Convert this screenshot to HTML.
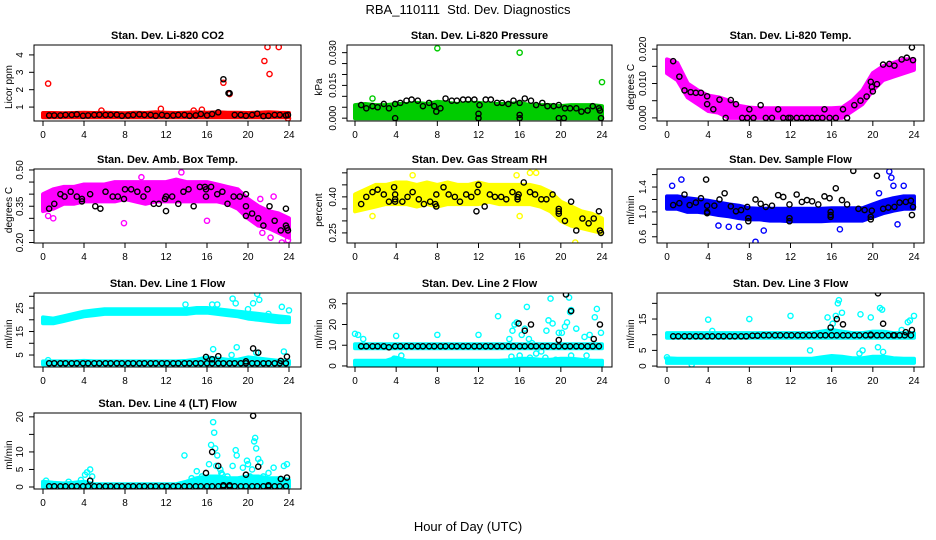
<!DOCTYPE html>
<html><head><meta charset="utf-8"><style>
body{margin:0;background:#fff;}
svg{display:block;font-family:"Liberation Sans",sans-serif;}
</style></head><body>
<svg id="c" width="936" height="540" viewBox="0 0 936 540">
<text x="468" y="14" text-anchor="middle" font-size="13" style="white-space:pre">RBA_110111  Std. Dev. Diagnostics</text>
<text x="468" y="531" text-anchor="middle" font-size="13">Hour of Day (UTC)</text>
</svg>
<script>
const HOURS=[0,1,2,3,4,5,6,7,8,9,10,11,12,13,14,15,16,17,18,19,20,21,22,23,24];
const GRID=[0.6,1.1,1.7,2.2,2.8,3.3,3.9,4.4,5.0,5.5,6.1,6.6,7.2,7.7,8.3,8.8,9.4,9.9,10.5,11.0,11.6,12.1,12.7,13.2,13.8,14.3,14.9,15.4,16.0,16.5,17.1,17.6,18.2,18.7,19.3,19.8,20.4,20.9,21.5,22.0,22.6,23.1,23.7];
const X_TICKS=[0,4,8,12,16,20,24];

// Panel 1 CO2
const co2BandLo=[0.42,0.42,0.42,0.42,0.42,0.42,0.42,0.42,0.42,0.42,0.42,0.42,0.42,0.42,0.42,0.42,0.42,0.42,0.42,0.42,0.42,0.42,0.42,0.42,0.42];
const co2BandHi=[0.66,0.66,0.65,0.66,0.67,0.66,0.68,0.66,0.65,0.67,0.66,0.7,0.68,0.66,0.68,0.7,0.68,0.7,0.68,0.67,0.66,0.68,0.7,0.67,0.66];
const co2OutX=[0.5,11.5,15.5,17.6,18.2,21.6,21.9,22.1,23.0,5.7,14.7,23.9];
const co2OutY=[2.35,0.9,0.85,2.4,1.75,3.65,4.45,2.9,4.45,0.8,0.8,0.35];
const co2Black=[0.52,0.52,0.52,0.55,0.55,0.58,0.5,0.52,0.55,0.56,0.55,0.55,0.56,0.5,0.52,0.55,0.58,0.55,0.55,0.5,0.55,0.5,0.52,0.55,0.55,0.5,0.52,0.6,0.52,0.6,0.7,2.6,1.8,0.55,0.55,0.5,0.55,0.62,0.48,0.5,0.55,0.55,0.52];
const co2ExX=[18.1,23.9];const co2ExY=[1.8,0.55];

// Panel 2 Pressure
const prBandLo=[0,0,0,0,0,0,0,0,0,0,0,0,0,0,0,0,0,0,0,0,0,0,0,0,0];
const prBandHi=[0.006,0.0065,0.006,0.006,0.0065,0.0065,0.007,0.0065,0.0075,0.007,0.0065,0.007,0.007,0.0065,0.0065,0.0065,0.007,0.006,0.006,0.006,0.0055,0.006,0.006,0.006,0.0055];
const prOutX=[8.0,16.0,24.0,1.7];
const prOutY=[0.032,0.030,0.0165,0.009];
const prBlack=[0.006,0.0045,0.0055,0.005,0.0065,0.0045,0.0065,0.007,0.008,0.0085,0.008,0.0055,0.007,0.0055,0.0045,0.009,0.008,0.008,0.0085,0.0085,0.0085,0.006,0.0085,0.0085,0.007,0.007,0.0065,0.008,0.007,0.009,0.008,0.006,0.007,0.0055,0.0055,0.006,0.0045,0.0045,0.0045,0.003,0.0035,0.0055,0.0045];
const prExX=[3.9,12.0,12.0,16.0,16.0,19.8,20.3,23.8,23.9,7.9];const prExY=[0,0,0.002,0,0.0015,0,0,0.0035,0,0.003];

// Panel 3 Temp
const tpBandLo=[0.013,0.011,0.006,0.004,0.002,0.0015,0,0,0,0,0,0,0,0,0,0,0,0,0.002,0.004,0.008,0.011,0.012,0.013,0.014];
const tpBandHi=[0.017,0.016,0.010,0.008,0.0065,0.006,0.005,0.0035,0.003,0.0028,0.0028,0.0028,0.0028,0.0028,0.0028,0.0028,0.0028,0.003,0.005,0.008,0.013,0.015,0.016,0.017,0.017];
const tpBX=[0.6,1.2,1.7,2.3,2.8,3.3,3.9,3.9,4.5,5.1,5.7,6.2,6.7,7.3,7.8,8.0,8.4,9.1,9.6,10.2,10.8,11.3,11.8,12.0,12.6,13.1,13.6,14.1,14.6,15.1,15.3,15.8,16.4,17.1,17.5,18.2,18.8,19.4,19.8,19.9,20.0,20.4,21.0,21.6,22.1,22.8,23.3,23.8,23.9];
const tpBY=[0.0165,0.012,0.008,0.0075,0.0073,0.0073,0.0063,0.004,0.0025,0.0053,0,0.0052,0.004,0,0,0.0025,0,0.0037,0,0,0.0025,0,0,0,0,0,0,0,0,0,0.0025,0,0,0.0025,0,0.0037,0.005,0.0062,0.0105,0.009,0.0077,0.0098,0.0155,0.0157,0.0152,0.017,0.0175,0.0205,0.0168];

// Panel 4 Amb box temp
const abBandLo=[0.33,0.34,0.36,0.36,0.37,0.37,0.37,0.37,0.38,0.37,0.36,0.37,0.37,0.37,0.37,0.37,0.37,0.37,0.36,0.34,0.30,0.27,0.26,0.24,0.22];
const abBandHi=[0.40,0.42,0.43,0.43,0.44,0.44,0.44,0.45,0.45,0.45,0.45,0.45,0.45,0.46,0.45,0.45,0.45,0.44,0.43,0.42,0.38,0.35,0.33,0.32,0.30];
const abOutX=[0.5,1.0,7.9,9.6,13.5,16.0,23.3,23.9,21.4,22.2,21.2,22.5];
const abOutY=[0.31,0.30,0.28,0.47,0.49,0.29,0.20,0.21,0.24,0.22,0.38,0.39];
const abBX=[0.6,1.1,1.7,2.1,2.7,3.3,3.8,3.8,4.6,5.1,5.6,6.1,6.8,7.3,7.9,8.0,8.6,9.2,9.8,10.2,10.8,11.3,11.9,12.0,12.0,12.6,13.2,13.7,14.2,14.7,15.3,15.8,15.9,15.9,16.4,17.0,17.5,18.0,18.6,19.2,19.8,19.8,19.8,20.4,21.0,21.5,22.1,22.6,23.2,23.7,23.7,23.8,23.9];
const abBY=[0.34,0.36,0.40,0.39,0.41,0.39,0.37,0.38,0.40,0.35,0.34,0.41,0.39,0.39,0.38,0.42,0.42,0.41,0.39,0.42,0.36,0.36,0.38,0.33,0.39,0.39,0.36,0.41,0.42,0.35,0.43,0.43,0.39,0.42,0.43,0.40,0.41,0.36,0.39,0.39,0.35,0.31,0.40,0.32,0.30,0.27,0.35,0.29,0.25,0.34,0.27,0.26,0.25];

// Panel 5 Gas stream RH
const rhBandLo=[0.34,0.35,0.36,0.37,0.37,0.37,0.36,0.37,0.36,0.37,0.37,0.37,0.37,0.38,0.37,0.37,0.37,0.37,0.36,0.34,0.30,0.28,0.27,0.26,0.25];
const rhBandHi=[0.41,0.43,0.45,0.45,0.46,0.46,0.45,0.46,0.45,0.46,0.45,0.45,0.46,0.45,0.45,0.45,0.45,0.45,0.44,0.42,0.38,0.36,0.34,0.33,0.31];
const rhOutX=[5.6,15.7,17.0,17.6,21.4,16.0,1.7];
const rhOutY=[0.49,0.49,0.50,0.50,0.21,0.32,0.32];
const rhBX=[0.6,1.1,1.7,2.2,2.8,3.3,3.8,3.9,3.9,3.9,4.6,5.1,5.6,6.2,6.7,7.3,7.8,7.9,7.9,8.6,9.1,9.7,10.2,10.8,11.3,11.8,11.9,12.0,12.6,13.1,13.6,14.2,14.7,15.3,15.8,15.8,15.9,16.4,17.0,17.5,18.1,18.6,19.2,19.8,19.8,19.8,20.4,21.0,21.5,22.1,22.7,23.2,23.7,23.8,23.9];
const rhBY=[0.37,0.40,0.42,0.43,0.41,0.38,0.44,0.39,0.38,0.41,0.38,0.40,0.42,0.39,0.37,0.38,0.37,0.36,0.41,0.44,0.41,0.40,0.38,0.41,0.40,0.34,0.42,0.45,0.36,0.41,0.40,0.40,0.39,0.42,0.39,0.40,0.41,0.46,0.42,0.41,0.39,0.39,0.41,0.35,0.33,0.34,0.30,0.38,0.26,0.31,0.29,0.31,0.34,0.26,0.25];

// Panel 6 Sample flow
const sfBandLo=[1.05,1.05,1.0,1.0,0.98,0.95,0.93,0.9,0.88,0.88,0.86,0.86,0.85,0.85,0.85,0.85,0.86,0.86,0.86,0.86,0.92,0.98,1.02,1.05,1.05];
const sfBandHi=[1.25,1.25,1.22,1.2,1.18,1.15,1.12,1.1,1.06,1.05,1.05,1.05,1.05,1.05,1.05,1.05,1.06,1.06,1.06,1.06,1.12,1.18,1.22,1.25,1.25];
const sfOutX=[0.5,1.4,8.6,9.4,16.8,21.6,21.8,22.0,23.0,22.4,20.6,5.0,6.0,7.0];
const sfOutY=[1.42,1.52,0.52,0.70,0.72,1.65,1.55,1.42,1.42,0.80,1.30,0.78,0.76,0.76];
const sfBX=[0.6,1.2,1.7,2.2,2.8,3.3,3.8,3.9,3.9,3.9,4.6,5.1,5.6,6.2,6.7,7.2,7.8,7.9,7.9,8.6,9.1,9.6,10.2,10.8,11.3,11.9,11.9,11.9,12.6,13.1,13.6,14.1,14.7,15.3,15.8,15.9,15.9,15.9,16.4,17.0,17.5,18.1,18.6,19.2,19.8,19.8,19.9,20.4,21.0,21.5,22.1,22.6,23.2,23.7,23.8,23.9];
const sfBY=[1.11,1.14,1.28,1.11,1.15,1.22,1.52,1.10,0.98,1.00,1.10,1.20,1.30,1.09,1.01,1.03,1.08,0.90,0.85,1.20,1.13,1.08,1.10,1.27,1.24,1.12,0.90,0.85,1.28,1.16,1.19,1.17,1.12,1.25,1.22,1.00,0.95,0.92,1.38,1.19,1.12,1.66,1.05,1.03,0.92,0.88,1.02,1.58,1.05,1.07,1.08,1.15,1.16,1.18,0.95,1.08];

// Panel 7 Line 1 flow
const l1BandLo=[18.5,18.5,19.5,20.5,21.5,22,22.5,22.5,22.5,22.5,22.5,22.5,22.5,22.5,22.5,23,23,22.5,22,21.5,20.5,20,19.5,19,19];
const l1BandHi=[21,20.5,21.5,22.5,23.5,24,24.5,24.5,24.5,24.5,24.5,24.5,24.5,24.5,24.5,25,25,24.5,24,23.5,23,22.5,22,21.5,21];
const l1Band2Lo=[1,1,1,1,1,1,1,1,1,1,1,1,1,1,1,1,1,1,1,1,1,1,1,1,1];
const l1Band2Hi=[2.3,2.3,2.3,2.3,2.5,2.3,2.3,2.3,2.3,2.3,2.3,2.3,2.3,2.3,2.5,3,4,3.5,3,3,4,3.5,3,2.5,2.5];
const l1OutX=[13.9,16.5,17.0,18.5,18.8,20.5,20.9,21.1,23.3,24.0,16.6,18.9,18.4,23.5,20.8,0.5,20.0,22.0];
const l1OutY=[26.5,26.5,26.5,29,27,27,31,28.5,25.5,24,7.5,8.3,5,6.5,6,2.8,24.5,22.5];
const l1Black=[1.5,1.5,1.5,1.5,1.5,1.5,1.5,1.5,1.5,1.5,1.5,1.5,1.5,1.5,1.5,1.5,1.5,1.5,1.5,1.5,1.5,1.5,1.5,1.5,1.5,1.5,1.5,1.5,1.5,1.5,1.5,1.5,1.5,1.5,1.5,1.5,1.5,1.5,1.5,1.5,1.5,1.5,1.5];
const l1ExX=[15.9,16.5,17.1,19.8,20.5,21.0,23.2,23.8];const l1ExY=[4.2,3.2,4.5,2.3,7.8,6.0,2.5,4.3];

// Panel 8 Line 2 flow
const l2BandLo=[8.5,8.5,8.5,8.5,8.5,8.5,8.5,8.5,8.5,8.5,8.5,8.5,8.5,8.5,8.5,8.5,8.5,8.5,8.5,8.5,8.5,8.5,8.5,8.5,8.5];
const l2BandHi=[10.5,10.5,10.5,10.5,10.5,10.5,10.5,10.5,10.5,10.5,10.5,10.5,10.5,10.5,10.5,10.5,10.5,10.5,10.5,10.5,10.5,10.5,10.5,10.5,10.5];
const l2Band2Lo=[0.5,0.5,0.5,0.5,0,0.5,0.5,0.5,0.5,0.5,0.5,0.5,0.5,0.5,0.5,0.5,0.5,0.5,0.5,0.5,0.5,0.5,0.5,0.5,0.5];
const l2Band2Hi=[2.5,2.5,2.5,2.5,4,2.5,2.5,2.5,2.5,2.5,2.5,2.5,2.5,2.5,2.5,2.8,3.5,3.5,3,3,3.5,3.5,3,2.5,2.5];
const l2OutX=[0,0.3,0.8,4,8,12,13.9,15.3,15.5,15.7,16.2,16.5,16.7,16.9,17.2,17.6,18.1,18.6,18.8,19.0,19.2,19.8,20.1,20.4,20.6,20.8,20.9,21.0,21.5,22.3,22.8,23.3,23.5,23.9,16.0,17.0,18.5,21.0,22.5,19.5,15.0,15.2,4.5,3.8];
const l2OutY=[15.5,15,13,14.5,15,15,24,17,20,21,15,18,28.5,13,11,6,7,17,22,32.5,20.5,16,16,19,21,33,26,27,18,14,15,23.5,27.5,16,5,4,4,5,5,3,13,4.5,5,3.5];
const l2Black=[9.5,9.5,9.5,9.5,9.5,9,9.5,9.5,9.5,9.5,9.5,9.5,9.5,9.5,9.5,9.5,9.5,9.5,9.5,9.5,9.5,9.5,9.5,9.5,9.5,9.5,9.5,9.5,9.5,9.5,9.5,9.5,9.5,9.5,9.5,9.5,9.5,9.5,9.5,9.5,9.5,9.5,9.5];
const l2ExX=[15.9,16.5,17.1,19.8,20.5,21.0,23.2,23.8];const l2ExY=[20.5,17,20,12.5,34.5,26.5,13,20];

// Panel 9 Line 3 flow
const l3BandLo=[9,9,9,9,9,9,9,9,9,9,9,9,9,9,9,9,9,9,9,9,9,9,9,9,9];
const l3BandHi=[10.5,10.5,10.5,10.5,10.5,10.5,10.5,10.5,10.5,10.5,10.5,10.5,10.5,10.5,10.5,11,11.5,11,10.5,10.5,11,11,10.5,10.5,10.5];
const l3Band2Lo=[1,1,1,1,1,1,1,1,1,1,1,1,1,1,1,1,1,1,1,1,1,1,1,1,1];
const l3Band2Hi=[2.5,2.3,2.3,2.3,2.3,2.3,2.3,2.3,2.3,2.3,2.3,2.3,2.3,2.3,2.3,2.8,3.2,3,2.5,2.5,3,3,2.5,2.3,2.3];
const l3OutX=[0,2.4,4,4.4,8,12,13.9,15.6,16.1,16.4,16.6,16.7,17.0,18.7,18.8,19.0,19.8,20.5,20.7,20.9,21.0,21.2,22.8,23.4,23.6,24.0];
const l3OutY=[2.8,0.5,14.8,11.2,15,16,5,15.5,13.5,16,20,21,17,4,16.5,5,15.5,6,18.5,18,4.5,10.5,11.5,14,14.5,16];
const l3Black=[9.5,9.5,9.5,9.5,9.5,9.5,9.5,9.5,9.5,9.5,9.5,9.5,9.5,9.5,9.7,9.7,9.8,9.8,9.8,9.8,9.8,9.8,9.8,9.8,9.8,9.8,9.8,9.8,9.8,9.8,9.8,9.8,9.8,9.8,9.8,9.8,9.8,9.8,9.8,9.8,9.8,9.8,9.8];
const l3ExX=[15.9,16.5,17.1,19.8,20.5,21.0,23.2,23.8,22.1];const l3ExY=[12.3,15,13.3,10,23.2,13.5,10.8,11.5,9.8];

// Panel 10 Line 4 flow
const l4BandLo=[0,0,0,0,0,0,0,0,0,0,0,0,0,0,0,0,0,0,0,0,0,0,0,0,0];
const l4BandHi=[1.5,1.2,1,1.2,1.5,0.8,0.8,0.8,0.8,0.8,0.8,0.8,0.8,0.8,1.5,2.5,3,3,2.5,2.5,3,3,2.5,2.5,2];
const l4OutX=[13.8,14.5,15.0,15.5,16.2,16.4,16.6,16.7,16.8,17.0,17.3,17.5,18.0,18.5,18.8,18.9,19.5,19.9,20.0,20.2,20.4,20.6,20.7,20.8,21.0,21.2,21.5,22.0,22.5,23.0,23.5,23.8,4.3,4.6,4.8,2.5,3.7,0.3,15.8,17.0,19.5,22.0,4.1,16.9,17.4];
const l4OutY=[9,2.5,4.5,3,6.5,12,18.5,15.5,11,9,5,3.5,3,6,10.5,9,5.5,7.5,6.5,3,5,13,14,11,8,7,3,4,5.5,2,6,6.5,4.2,5,3,1.5,2,1.8,1.5,2,2,1.5,3.5,6,4];
const l4Black=[0.2,0.2,0.2,0.2,0.2,0.2,0.2,0.2,0.2,0.2,0.2,0.2,0.2,0.2,0.2,0.2,0.2,0.2,0.2,0.2,0.2,0.2,0.2,0.2,0.2,0.2,0.2,0.2,0.2,0.2,0.2,0.2,0.2,0.2,0.2,0.2,0.2,0.2,0.2,0.2,0.2,0.2,0.2];
const l4ExX=[4.6,15.9,16.5,17.1,17.6,18.2,19.8,20.5,21.0,22.0,23.2,23.8];const l4ExY=[1.8,4,10,6,0.5,0.5,3.5,20.3,5.8,0.5,2.3,2.7];

const RED="#ff0000",GRN="#00cc00",MAG="#ff00ff",YEL="#ffff00",BLU="#0000ff",CYN="#00ffff";
const COLS=[{l:34,r:301,x0:43,x24:289,lab:8},{l:347,r:612,x0:355,x24:602,lab:318},{l:657,r:924,x0:667,x24:914,lab:630}];
const ROWS=[{t:45,b:121},{t:169,b:243},{t:293,b:367},{t:413,b:489}];

const panels=[
 {name:"co2",title:"Stan. Dev. Li-820 CO2",ylab:"Licor ppm",c:0,r:0,ymin:0.2,ymax:4.57,ticks:[1,2,3,4],labs:["1","2","3","4"],color:RED,bands:[[co2BandLo,co2BandHi]],ox:co2OutX,oy:co2OutY,bx:GRID,by:co2Black,ex:co2ExX,ey:co2ExY},
 {name:"pressure",title:"Stan. Dev. Li-820 Pressure",ylab:"kPa",c:1,r:0,ymin:-0.0013,ymax:0.0335,ticks:[0,0.005,0.01,0.015,0.02,0.025,0.03],labs:["0.000","","","0.015","","","0.030"],color:GRN,bands:[[prBandLo,prBandHi]],ox:prOutX,oy:prOutY,bx:GRID,by:prBlack,ex:prExX,ey:prExY},
 {name:"temp",title:"Stan. Dev. Li-820 Temp.",ylab:"degrees C",c:2,r:0,ymin:-0.0009,ymax:0.0212,ticks:[0,0.005,0.01,0.015,0.02],labs:["0.000","","0.010","","0.020"],color:MAG,bands:[[tpBandLo,tpBandHi]],ox:[],oy:[],bx:tpBX,by:tpBY,ex:[],ey:[]},
 {name:"amb-box-temp",title:"Stan. Dev. Amb. Box Temp.",ylab:"degrees C",c:0,r:1,ymin:0.198,ymax:0.504,ticks:[0.2,0.25,0.3,0.35,0.4,0.45,0.5],labs:["0.20","","","0.35","","","0.50"],color:MAG,bands:[[abBandLo,abBandHi]],ox:abOutX,oy:abOutY,bx:abBX,by:abBY,ex:[],ey:[]},
 {name:"gas-stream-rh",title:"Stan. Dev. Gas Stream RH",ylab:"percent",c:1,r:1,ymin:0.208,ymax:0.516,ticks:[0.25,0.3,0.35,0.4,0.45,0.5],labs:["0.25","","","0.40","",""],color:YEL,bands:[[rhBandLo,rhBandHi]],ox:rhOutX,oy:rhOutY,bx:rhBX,by:rhBY,ex:[],ey:[]},
 {name:"sample-flow",title:"Stan. Dev. Sample Flow",ylab:"ml/min",c:2,r:1,ymin:0.5,ymax:1.69,ticks:[0.6,0.8,1.0,1.2,1.4,1.6],labs:["0.6","","1.0","","1.4",""],color:BLU,bands:[[sfBandLo,sfBandHi]],ox:sfOutX,oy:sfOutY,bx:sfBX,by:sfBY,ex:[],ey:[]},
 {name:"line1-flow",title:"Stan. Dev. Line 1 Flow",ylab:"ml/min",c:0,r:2,ymin:-0.1,ymax:31.4,ticks:[5,10,15,20,25,30],labs:["5","","15","","25",""],color:CYN,bands:[[l1BandLo,l1BandHi],[l1Band2Lo,l1Band2Hi]],ox:l1OutX,oy:l1OutY,bx:GRID,by:l1Black,ex:l1ExX,ey:l1ExY},
 {name:"line2-flow",title:"Stan. Dev. Line 2 Flow",ylab:"ml/min",c:1,r:2,ymin:-0.5,ymax:35.2,ticks:[0,10,20,30],labs:["0","10","20","30"],color:CYN,bands:[[l2BandLo,l2BandHi],[l2Band2Lo,l2Band2Hi]],ox:l2OutX,oy:l2OutY,bx:GRID,by:l2Black,ex:l2ExX,ey:l2ExY},
 {name:"line3-flow",title:"Stan. Dev. Line 3 Flow",ylab:"ml/min",c:2,r:2,ymin:-0.3,ymax:23.3,ticks:[0,5,10,15,20],labs:["0","5","","15",""],color:CYN,bands:[[l3BandLo,l3BandHi],[l3Band2Lo,l3Band2Hi]],ox:l3OutX,oy:l3OutY,bx:GRID,by:l3Black,ex:l3ExX,ey:l3ExY},
 {name:"line4-flow",title:"Stan. Dev. Line 4 (LT) Flow",ylab:"ml/min",c:0,r:3,ymin:-0.57,ymax:21.1,ticks:[0,5,10,15,20],labs:["0","5","10","","20"],color:CYN,bands:[[l4BandLo,l4BandHi]],ox:l4OutX,oy:l4OutY,bx:GRID,by:l4Black,ex:l4ExX,ey:l4ExY}
];

const svg=document.getElementById('c');
const NS="http://www.w3.org/2000/svg";
function mk(tag,attrs,parent,text){const e=document.createElementNS(NS,tag);for(const k in attrs)e.setAttribute(k,attrs[k]);if(text!==undefined)e.textContent=text;parent.appendChild(e);return e;}

panels.forEach(p=>{
 const C=COLS[p.c],R=ROWS[p.r];
 const sx=h=>C.x0+(C.x24-C.x0)*h/24;
 const sy=v=>R.b-(v-p.ymin)/(p.ymax-p.ymin)*(R.b-R.t);
 const g=mk('g',{},svg);
 
 
 const cp=mk('clipPath',{id:'cp-'+p.name},g);
 mk('rect',{x:C.l,y:R.t,width:C.r-C.l,height:R.b-R.t},cp);
 const plot=mk('g',{'clip-path':'url(#cp-'+p.name+')'},g);
 p.bands.forEach((b,bi)=>{
  const lo=b[0],hi=b[1];let pts=[];
  HOURS.forEach((h,i)=>pts.push(sx(h).toFixed(1)+','+sy(hi[i]).toFixed(1)));
  for(let i=HOURS.length-1;i>=0;i--)pts.push(sx(HOURS[i]).toFixed(1)+','+sy(lo[i]).toFixed(1));
  const poly=mk('polygon',{points:pts.join(' '),fill:p.color,stroke:p.color,'stroke-width':4,'stroke-linejoin':'round'},plot);
  
  
 });
 p.ox.forEach((x,i)=>{
  const c=mk('circle',{cx:sx(x),cy:sy(p.oy[i]),r:2.6,fill:'none',stroke:p.color,'stroke-width':1.4},plot);
  
  
 });
 const drawB=(xs,ys)=>xs.forEach((x,i)=>{
  const c=mk('circle',{cx:sx(x),cy:sy(ys[i]),r:2.6,fill:'none',stroke:'#000','stroke-width':1.4},plot);
  
  
 });
 drawB(p.bx,p.by);drawB(p.ex,p.ey);
 const box=mk('rect',{x:C.l,y:R.t,width:C.r-C.l,height:R.b-R.t,fill:'none',stroke:'#000','stroke-width':1},g);
 
 
 const t=mk('text',{x:(C.l+C.r)/2,y:R.t-6,'text-anchor':'middle','font-size':11,'font-weight':'bold'},g,p.title);
 
 
 const yl=mk('text',{x:C.lab,y:(R.t+R.b)/2,'text-anchor':'middle','font-size':10,transform:`rotate(-90 ${C.lab+4} ${(R.t+R.b)/2})`},g,p.ylab);
 
 
 X_TICKS.forEach(h=>{
  const X=sx(h);
  mk('line',{x1:X,x2:X,y1:R.b,y2:R.b+5,stroke:'#000'},g);
  const tl=mk('text',{x:X,y:R.b+17,'text-anchor':'middle','font-size':10},g,String(h));
  
  
 });
 p.ticks.forEach((v,i)=>{
  const Y=sy(v);
  mk('line',{x1:C.l-5,x2:C.l,y1:Y,y2:Y,stroke:'#000'},g);
  if(p.labs[i]){
   const lx=C.l-11;
   const tl=mk('text',{x:lx,y:Y,'text-anchor':'middle','font-size':10,transform:`rotate(-90 ${lx} ${Y})`},g,p.labs[i]);
   
   
  }
 });
});
</script>
</body></html>
